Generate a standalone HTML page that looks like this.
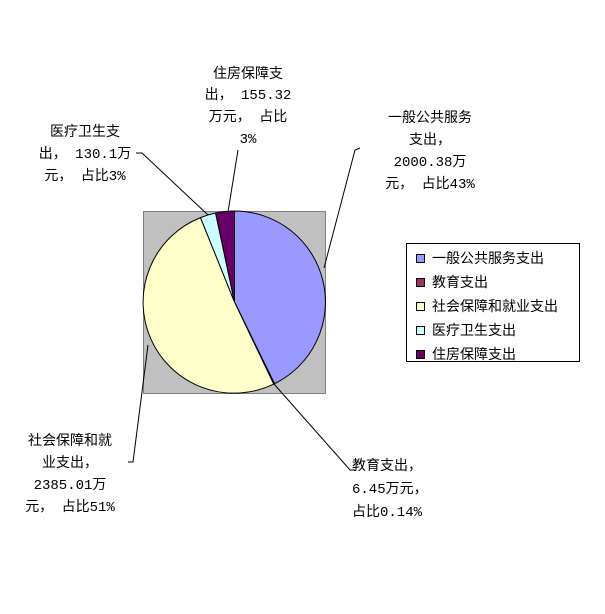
<!DOCTYPE html>
<html><head><meta charset="utf-8"><style>
html,body{margin:0;padding:0;background:#fff;}
text{font-family:"Liberation Mono","Noto Sans CJK SC",monospace;font-size:14px;fill:#000;}
</style></head><body>
<svg width="605" height="609" viewBox="0 0 605 609" xmlns="http://www.w3.org/2000/svg">
<rect x="143.5" y="211.5" width="182" height="182" fill="#c0c0c0" stroke="#808080"/>
<g stroke="#000" stroke-width="1">
<path d="M234.5,302 L234.5,211 A91,91 0 0 1 274.5,383.7 Z" fill="#9999ff"/>
<path d="M234.5,302 L274.5,383.7 A91,91 0 0 1 273.7,384.1 Z" fill="#993366"/>
<path d="M234.5,302 L273.7,384.1 A91,91 0 1 1 200.5,217.6 Z" fill="#ffffcc"/>
<path d="M234.5,302 L200.5,217.6 A91,91 0 0 1 215.6,213 Z" fill="#ccffff"/>
<path d="M234.5,302 L215.6,213 A91,91 0 0 1 234.5,211 Z" fill="#660066"/>
</g>
<g stroke="#000" stroke-width="1" fill="none">
<polyline points="360,148 355,150 324,268"/>
<polyline points="274,384 350,470 355,470"/>
<polyline points="148,345 133,462 128,462"/>
<polyline points="136,153 142,153 208,215"/>
<polyline points="238,150 228,212"/>
</g>
<g text-anchor="middle">
<text x="248" y="78">住房保障支</text>
<text x="248" y="99">出， 155.32</text>
<text x="248" y="121">万元， 占比</text>
<text x="248" y="143">3%</text>
<text x="85" y="136">医疗卫生支</text>
<text x="85" y="158">出， 130.1万</text>
<text x="85" y="180">元， 占比3%</text>
<text x="430" y="122">一般公共服务</text>
<text x="430" y="144">支出，</text>
<text x="430" y="166">2000.38万</text>
<text x="430" y="188">元， 占比43%</text>
<text x="70" y="445">社会保障和就</text>
<text x="70" y="467">业支出，</text>
<text x="70" y="489">2385.01万</text>
<text x="70" y="511">元， 占比51%</text>
</g>
<text x="352" y="470">教育支出，</text>
<text x="352" y="493">6.45万元，</text>
<text x="352" y="516">占比0.14%</text>
<rect x="406.5" y="243.5" width="173" height="118" fill="#fff" stroke="#000"/>
<g stroke="#000">
<rect x="416.5" y="254.5" width="8" height="8" fill="#9999ff"/>
<rect x="416.5" y="278.5" width="8" height="8" fill="#993366"/>
<rect x="416.5" y="302.5" width="8" height="8" fill="#ffffcc"/>
<rect x="416.5" y="326.5" width="8" height="8" fill="#ccffff"/>
<rect x="416.5" y="350.5" width="8" height="8" fill="#660066"/>
</g>
<g style="font-size:13px">
<text x="432" y="263">一般公共服务支出</text>
<text x="432" y="287">教育支出</text>
<text x="432" y="311">社会保障和就业支出</text>
<text x="432" y="335">医疗卫生支出</text>
<text x="432" y="359">住房保障支出</text>
</g>
</svg>
</body></html>
